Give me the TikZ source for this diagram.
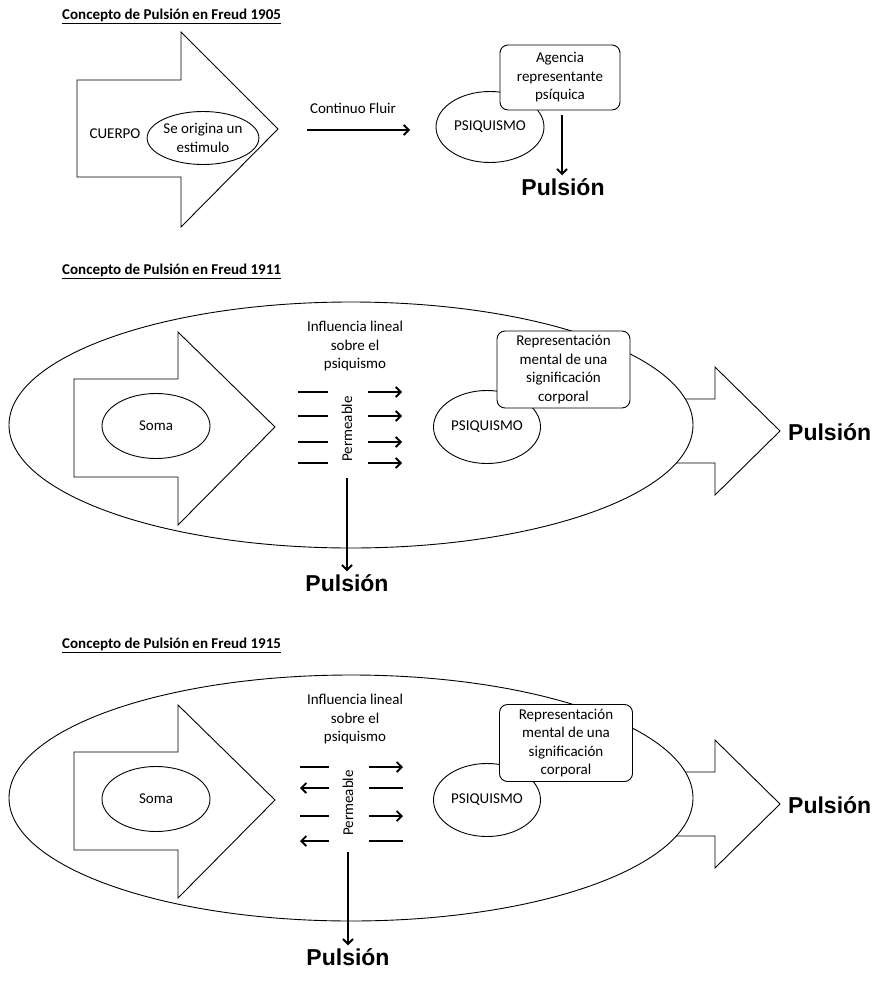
\documentclass[tikz,border=0pt]{standalone}
\usepackage{fontspec}
\setmainfont{Carlito}
\newfontfamily\pulfont{Liberation Sans}
\usetikzlibrary{shapes.geometric,arrows.meta}
\newcommand\bodytext{\fontsize{15}{18.5}\selectfont}
\newcommand\headtext{\fontsize{15}{17}\selectfont\bfseries}
\newcommand\bigword{\fontsize{23}{26}\selectfont\pulfont\bfseries}
\begin{document}
\begin{tikzpicture}[x=1pt,y=-1pt,
  thin line/.style={draw=black,line width=0.9pt},
  shapeline/.style={thin line,fill=white,line join=miter},
  oval/.style={ellipse,thin line,fill=white,inner sep=0pt,align=center,font=\bodytext},
  card/.style={rectangle,rounded corners=8pt,thin line,fill=white,inner sep=0pt,align=center,font=\bodytext},
  label/.style={inner sep=0pt,align=center,font=\bodytext},
  heading/.style={inner sep=0pt,anchor=west,font=\headtext},
  result/.style={inner sep=3pt,font=\bigword},
  flow/.style={line width=1.8pt,-{Straight Barb[length=5pt,width=10pt,line width=1.8pt]}},
  bar/.style={line width=1.8pt},
]
\useasboundingbox[fill=white] (0,0) rectangle (883,982);

% ---------- 1905 ----------
\node[heading] (h1) at (62,16) {\underline{Concepto de Pulsión en Freud 1905}};
\draw[shapeline] (77,80) -- (181,80) -- (181,32) -- (278,129) -- (181,227) -- (181,177) -- (77,177) -- cycle;
\node[label] (cuerpo) at (115,134) {CUERPO};
\node[oval,minimum width=110pt,minimum height=53pt] (stim) at (203,138) {Se origina un\\estimulo};
\node[label] (fluir) at (353,108) {Continuo Fluir};
\coordinate (flowA) at (307,130);
\coordinate (flowB) at (410,130);
\draw[flow] (flowA) -- (flowB);
\node[oval,minimum width=108pt,minimum height=71pt] (psi1) at (490,127) {PSIQUISMO};
\node[card,minimum width=120pt,minimum height=65pt] (agency) at (560,77.5) {Agencia\\representante\\psíquica};
\node[result] (pul1) at (563,187) {Pulsión};
\coordinate (drop1) at (562,115);
\draw[flow] (drop1) -- (pul1.north -| drop1);

% ---------- 1911 ----------
\node[heading] (h2) at (62,271) {\underline{Concepto de Pulsión en Freud 1911}};
\draw[shapeline] (660,399) -- (715,399) -- (715,367) -- (780,431) -- (715,495) -- (715,463) -- (660,463);
\node[ellipse,shapeline,minimum width=684pt,minimum height=246pt] (field2) at (351,425) {};
\draw[shapeline] (74,379) -- (178,379) -- (178,332) -- (275,427) -- (178,525) -- (178,477) -- (74,477) -- cycle;
\node[oval,minimum width=108pt,minimum height=65pt] (soma2) at (156,426) {Soma};
\node[label] (infl2) at (355,346) {Influencia lineal\\sobre el\\psiquismo};
\node[label,rotate=90] (perm2) at (347,429) {Permeable};
\draw[bar]  (298,392) -- (328,392);
\draw[flow] (368,392) -- (402,392);
\draw[bar]  (298,416) -- (328,416);
\draw[flow] (368,416) -- (402,416);
\draw[bar]  (298,442) -- (328,442);
\draw[flow] (368,442) -- (402,442);
\draw[bar]  (298,463) -- (328,463);
\draw[flow] (368,463) -- (402,463);
\node[oval,minimum width=107pt,minimum height=73pt] (psi2) at (487,427) {PSIQUISMO};
\node[card,minimum width=133pt,minimum height=77pt] (rep2) at (563.5,369.5) {Representación\\mental de una\\significación\\corporal};
\node[result,anchor=west,inner sep=0pt] (pul2a) at (788,432) {Pulsión};
\node[result] (pul2b) at (347,583) {Pulsión};
\coordinate (drop2) at (347,478);
\draw[flow] (drop2) -- (pul2b.north);

% ---------- 1915 ----------
\node[heading] (h3) at (62,645) {\underline{Concepto de Pulsión en Freud 1915}};
\begin{scope}[shift={(0,373)}]
\draw[shapeline] (660,399) -- (715,399) -- (715,367) -- (780,431) -- (715,495) -- (715,463) -- (660,463);
\node[ellipse,shapeline,minimum width=684pt,minimum height=246pt] (field3) at (351,425) {};
\draw[shapeline] (74,379) -- (178,379) -- (178,332) -- (275,427) -- (178,525) -- (178,477) -- (74,477) -- cycle;
\node[oval,minimum width=108pt,minimum height=65pt] (soma3) at (156,426) {Soma};
\node[label] (infl3) at (355,346) {Influencia lineal\\sobre el\\psiquismo};
\node[label,rotate=90] (perm3) at (348,430) {Permeable};
\draw[bar]  (300,394) -- (329,394);
\draw[flow] (369,394) -- (403,394);
\draw[flow] (329,415) -- (300,415);
\draw[bar]  (369,415) -- (403,415);
\draw[bar]  (300,443) -- (329,443);
\draw[flow] (369,443) -- (403,443);
\draw[flow] (329,468) -- (300,468);
\draw[bar]  (369,468) -- (403,468);
\node[oval,minimum width=107pt,minimum height=73pt] (psi3) at (487,427) {PSIQUISMO};
\node[card,minimum width=133pt,minimum height=77pt] (rep3) at (566,370) {Representación\\mental de una\\significación\\corporal};
\node[result,anchor=west,inner sep=0pt] (pul3a) at (788,432) {Pulsión};
\node[result] (pul3b) at (348,584) {Pulsión};
\coordinate (drop3) at (348,479);
\draw[flow] (drop3) -- (pul3b.north);
\end{scope}
\end{tikzpicture}
\end{document}
